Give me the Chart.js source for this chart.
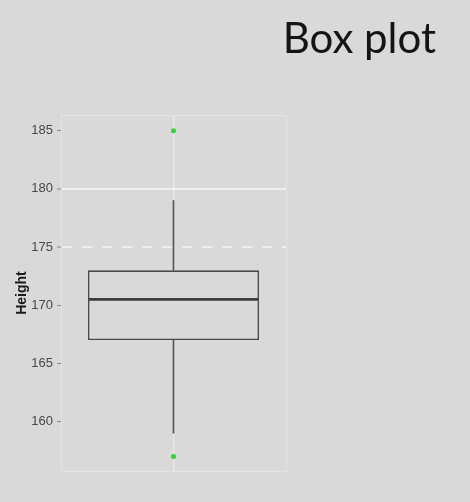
<!DOCTYPE html>
<html>
<head>
<meta charset="utf-8">
<script src="https://cdn.jsdelivr.net/npm/chart.js@4/dist/chart.umd.min.js"></script>
<style>
  html, body { margin: 0; padding: 0; background: #d9d9d9; }
  canvas { display: block; }
</style>
</head>
<body>
<canvas id="c" width="470" height="502"></canvas>
<script>
// ---- data ----
const categories = [''];
const lowerWhisker = [159];
const q1 = [167];
const median = [170.5];
const q3 = [173];
const upperWhisker = [179];
const outliers = [185, 157];
const yTicks = [160, 165, 170, 175, 180, 185];
const yRange = [155.75, 186.35];
const titleText = 'Box plot';
const yTitle = 'Height';

// ---- layout constants ----
const TITLE_SIZE = 42, TITLE_PAD_TOP = 14, TITLE_PAD_BOTTOM = 0;
const TITLE_H = TITLE_SIZE * 1.2 + TITLE_PAD_TOP + TITLE_PAD_BOTTOM;
const PLOT_TOP = 115, PLOT_BOTTOM = 471, PLOT_LEFT = 61, PLOT_RIGHT = 286;
const RIGHT_PAD = 34;
const frameColor = '#e4e4e4';

const medianPlugin = {
  id: 'medianLine',
  afterDatasetsDraw(chart) {
    const meta = chart.getDatasetMeta(0);
    const yScale = chart.scales.y;
    const ctx = chart.ctx;
    meta.data.forEach((el, i) => {
      const props = el.getProps(['x', 'width'], true);
      const y = yScale.getPixelForValue(median[i]);
      ctx.save();
      ctx.strokeStyle = '#3c3c3c';
      ctx.lineWidth = 2.6;
      ctx.beginPath();
      ctx.moveTo(props.x - props.width / 2 + 1, y);
      ctx.lineTo(props.x + props.width / 2 - 1, y);
      ctx.stroke();
      ctx.restore();
    });
  }
};

new Chart(document.getElementById('c'), {
  type: 'bar',
  data: {
    labels: categories,
    datasets: [
      {
        label: 'box',
        data: q1.map((v, i) => [v, q3[i]]),
        backgroundColor: '#d9d9d9',
        borderColor: '#4a4a4a',
        borderWidth: 1.6,
        borderSkipped: false,
        barPercentage: 0.76,
        categoryPercentage: 1,
        grouped: false,
        order: 1
      },
      {
        label: 'upper whisker',
        data: q3.map((v, i) => [v, upperWhisker[i]]),
        backgroundColor: '#555555',
        borderWidth: 0,
        barThickness: 1,
        grouped: false,
        order: 2
      },
      {
        label: 'lower whisker',
        data: lowerWhisker.map((v, i) => [v, q1[i]]),
        backgroundColor: '#555555',
        borderWidth: 0,
        barThickness: 1,
        grouped: false,
        order: 2
      },
      {
        type: 'scatter',
        label: 'outliers',
        data: outliers.map(v => ({ x: 0, y: v })),
        backgroundColor: '#2fd62f',
        borderWidth: 0,
        pointRadius: 2.5,
        order: 0
      }
    ]
  },
  options: {
    responsive: false,
    animation: false,
    events: [],
    layout: { padding: { left: 0, right: RIGHT_PAD, top: 0, bottom: 0 } },
    plugins: {
      legend: { display: false },
      tooltip: { enabled: false },
      title: {
        display: true,
        text: titleText,
        align: 'end',
        color: '#141414',
        font: { family: 'Lato', size: TITLE_SIZE, weight: 'normal', lineHeight: 1.2 },
        padding: { top: TITLE_PAD_TOP, bottom: TITLE_PAD_BOTTOM }
      }
    },
    scales: {
      x: {
        type: 'category',
        position: 'bottom',
        offset: true,
        grid: {
          offset: false,
          color: 'rgba(255,255,255,0.38)',
          lineWidth: 1.5,
          drawTicks: false
        },
        border: { color: frameColor, width: 1 },
        ticks: { display: false },
        afterFit(s) { s.height = 502 - PLOT_BOTTOM; }
      },
      x2: {
        type: 'category',
        position: 'top',
        grid: { display: false, drawTicks: false },
        border: { color: frameColor, width: 1 },
        ticks: { display: false },
        afterFit(s) { s.height = PLOT_TOP - TITLE_H; }
      },
      y: {
        type: 'linear',
        position: 'left',
        min: yRange[0],
        max: yRange[1],
        afterBuildTicks(s) { s.ticks = yTicks.map(v => ({ value: v })); },
        grid: {
          color(ctx) {
            const v = ctx.tick && ctx.tick.value;
            if (v === 180) return 'rgba(255,255,255,0.6)';
            if (v === 175) return 'rgba(255,255,255,0.55)';
            return 'rgba(0,0,0,0)';
          },
          lineWidth(ctx) {
            const v = ctx.tick && ctx.tick.value;
            return (v === 180 || v === 175) ? 2 : 1;
          },
          tickColor: '#8a8a8a',
          tickWidth: 1,
          tickLength: 4,
          drawTicks: true
        },
        border: {
          color: frameColor,
          width: 1,
          dash(ctx) {
            return (ctx.tick && ctx.tick.value === 175) ? [10, 10] : [];
          }
        },
        ticks: {
          color: '#484848',
          padding: 4,
          font: { family: 'Liberation Sans', size: 13 }
        },
        title: {
          display: true,
          text: yTitle,
          color: '#1a1a1a',
          font: { family: 'Liberation Sans', size: 14, weight: 'bold', lineHeight: 1.2 },
          padding: { top: 14, bottom: 0 }
        },
        afterFit(s) { s.width = PLOT_LEFT; }
      },
      y2: {
        type: 'linear',
        position: 'right',
        grid: { display: false, drawTicks: false },
        border: { color: frameColor, width: 1 },
        ticks: { display: false },
        afterFit(s) { s.width = 470 - RIGHT_PAD - PLOT_RIGHT; }
      }
    }
  },
  plugins: [medianPlugin]
});
</script>
</body>
</html>
